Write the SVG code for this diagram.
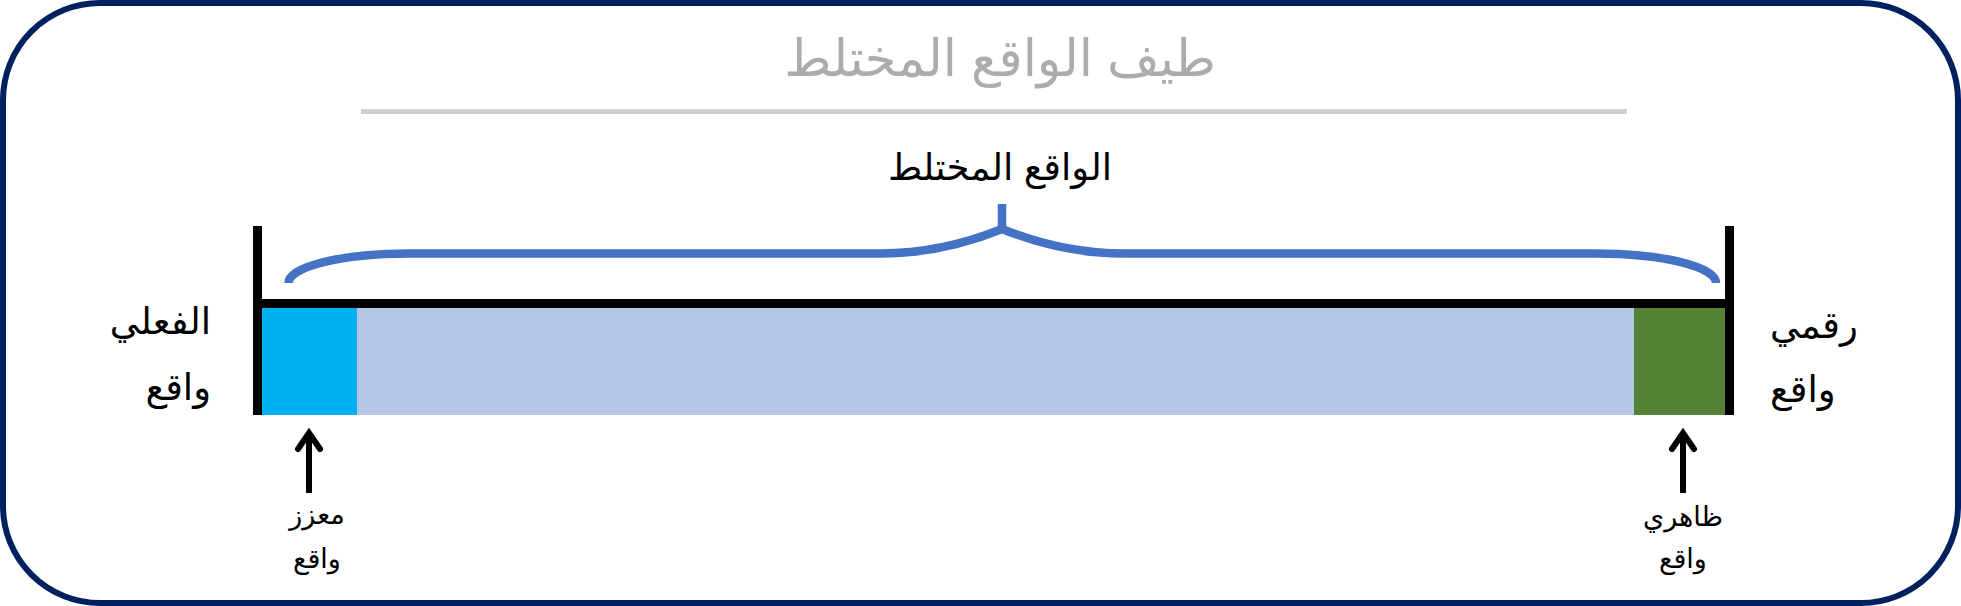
<svg xmlns="http://www.w3.org/2000/svg" width="1961" height="606" viewBox="0 0 1961 606">
  <style>
    .ar { font-family: "Liberation Sans", "DejaVu Sans", sans-serif; }
    .title { font-size: 51px; fill: #AEABAB; }
    .sub { font-size: 37px; fill: #000000; }
    .side { font-size: 37px; fill: #000000; }
    .small { font-size: 27px; fill: #000000; }
    .bar { stroke: #000000; stroke-width: 9; fill: none; }
    .arrow { stroke: #000000; stroke-width: 6; fill: none; }
  </style>
  <defs>
    <marker id="head" markerUnits="userSpaceOnUse" viewBox="-24 -16 30 32" markerWidth="30" markerHeight="32" refX="0" refY="0" orient="auto">
      <path d="M -16,-11 L 0,0 L -16,11" fill="none" stroke="#000000" stroke-width="6" stroke-linecap="round" stroke-linejoin="miter"/>
    </marker>
  </defs>

  <rect id="frame" x="3" y="3" width="1955" height="600" rx="97" ry="97" fill="#FFFFFF" stroke="#002060" stroke-width="6"/>

  <g id="title">
    <text class="ar title" x="1000" y="76" text-anchor="middle">طيف الواقع المختلط</text>
    <line x1="361" y1="111.5" x2="1627" y2="111.5" stroke="#D0CECE" stroke-width="5"/>
  </g>

  <g id="mixed-label">
    <text class="ar sub" x="1000" y="180" text-anchor="middle">الواقع المختلط</text>
  </g>

  <g id="spectrum">
    <rect x="262" y="308" width="1463" height="107" fill="#B4C7E7"/>
    <rect x="262" y="308" width="95" height="107" fill="#00B0F0"/>
    <rect x="1634" y="308" width="91" height="107" fill="#548235"/>
    <path class="bar" d="M 257.5,226 L 257.5,415 M 253,303.5 L 1734,303.5 M 1729.5,226 L 1729.5,415"/>
  </g>

  <g id="real-env">
    <text class="ar side" x="211" y="334" text-anchor="end">الفعلي</text>
    <text class="ar side" x="211" y="400" text-anchor="end">واقع</text>
  </g>

  <g id="virtual-env">
    <text class="ar side" x="1770" y="338" text-anchor="start">رقمي</text>
    <text class="ar side" x="1770" y="402" text-anchor="start">واقع</text>
  </g>

  <g id="augmented-reality">
    <text class="ar small" x="317" y="524" text-anchor="middle">معزز</text>
    <text class="ar small" x="317" y="568" text-anchor="middle">واقع</text>
  </g>

  <g id="augmented-virtuality">
    <text class="ar small" x="1683" y="526" text-anchor="middle">ظاهري</text>
    <text class="ar small" x="1683" y="568" text-anchor="middle">واقع</text>
  </g>

  <g id="connectors">
    <path d="M 288.5,283 A 120,29.5 0 0 1 408.5,253.5 L 880,253.5 C 925,253.5 965,244 1002,229 L 1002,204 M 1002,229 C 1039,244 1079,253.5 1124,253.5 L 1596,253.5 A 120,29.5 0 0 1 1716,283" fill="none" stroke="#4472C4" stroke-width="8.5"/>
    <line class="arrow" x1="309" y1="493" x2="309" y2="433" marker-end="url(#head)"/>
    <line class="arrow" x1="1683" y1="493" x2="1683" y2="433" marker-end="url(#head)"/>
  </g>
</svg>
